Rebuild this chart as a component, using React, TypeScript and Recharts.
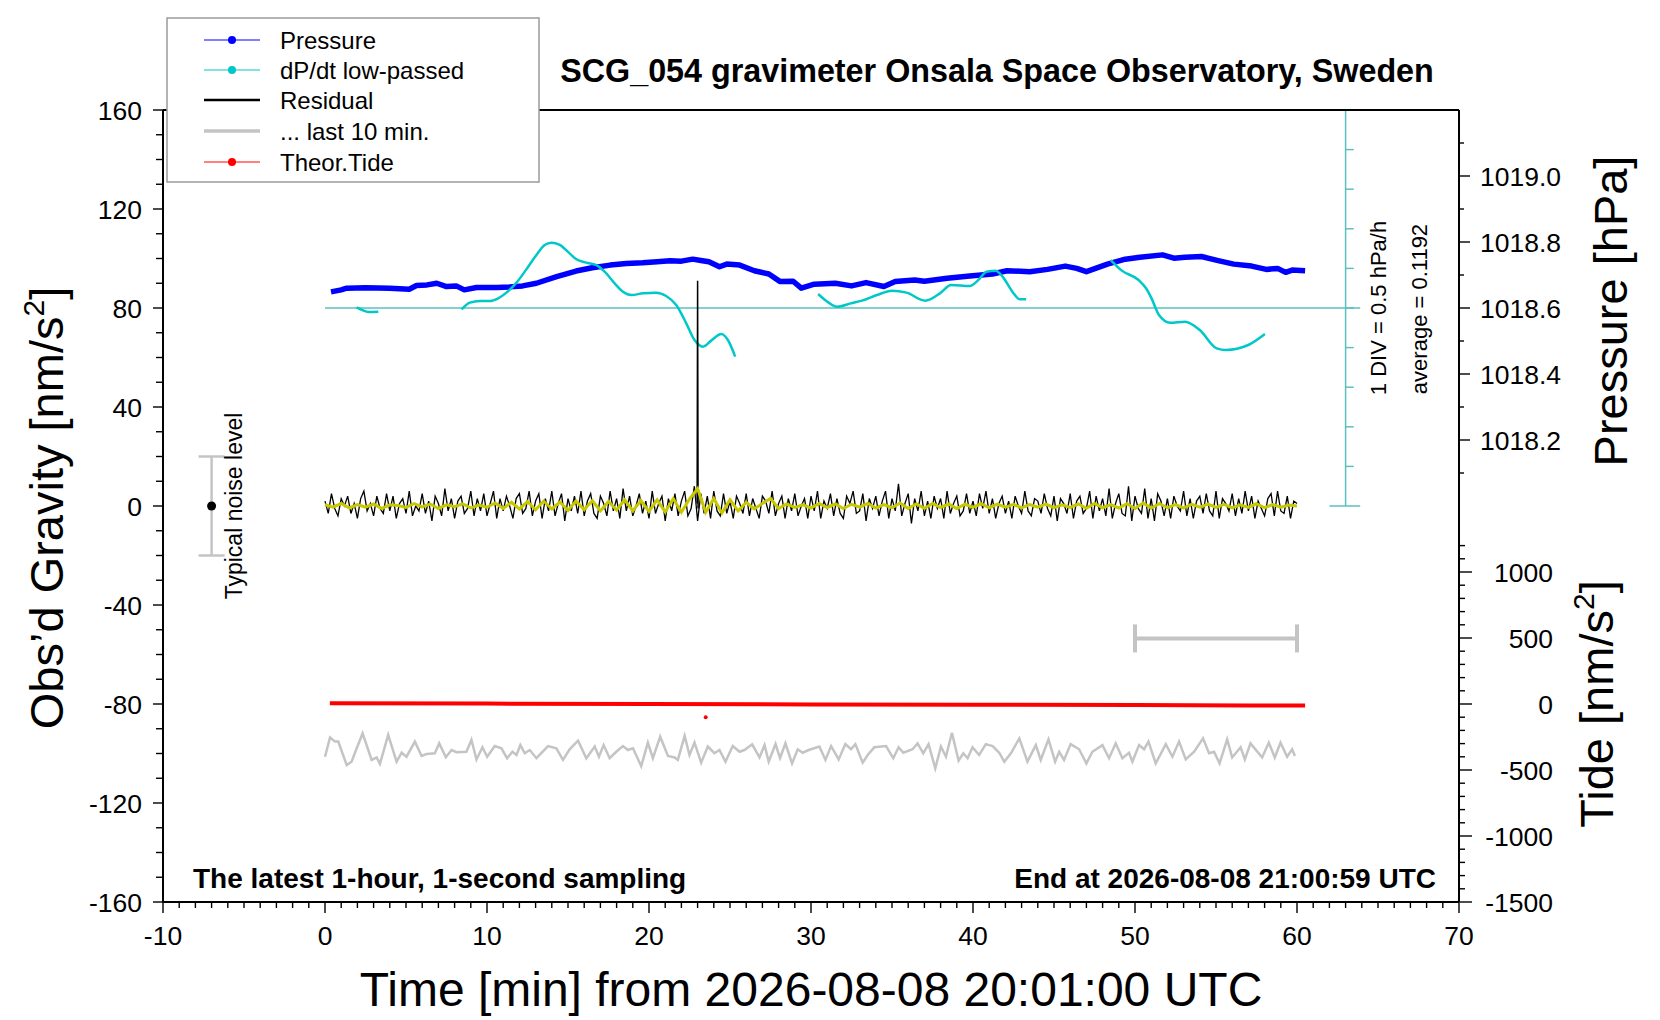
import React from "react";
import {
	ComposedChart,
	ErrorBar,
	Line,
	ReferenceLine,
	Scatter,
	XAxis,
	YAxis,
} from "recharts";

const FONT = '"Liberation Sans", Arial, Helvetica, sans-serif';

// axis ranges
const TIME_DOMAIN = [-10, 70];
const GRAVITY_DOMAIN = [-160, 160];
const PRESSURE_DOMAIN = [1016.8, 1019.2];
const TIDE_DOMAIN = [-1500, 4500];
const DPDT_AVERAGE = 0.1192; // hPa/h
const DPDT_DIV = 0.5; // hPa/h per division
const DPDT_DOMAIN = [DPDT_AVERAGE - 15 * DPDT_DIV, DPDT_AVERAGE + 5 * DPDT_DIV];
const DPDT_AXIS_T = 63; // where the dP/dt scale bar stands [min]

// tick values
const range = (a: number, b: number, step: number) =>
	Array.from({ length: Math.round((b - a) / step) + 1 }, (_, i) => +(a + i * step).toFixed(4));
const TIME_TICKS = range(-10, 70, 1);
const GRAVITY_TICKS = range(-160, 160, 10);
const PRESSURE_TICKS = [1018.1, 1018.2, 1018.3, 1018.4, 1018.5, 1018.6, 1018.7, 1018.8, 1018.9, 1019.0, 1019.1];
const TIDE_TICKS = range(-1500, 1200, 100);
const DPDT_DIVISIONS = range(-5, 5, 1).map((k) => DPDT_AVERAGE + k * DPDT_DIV);

// pressure [hPa]
const PRESSURE_T = [
	0.37, 1.0, 1.34, 2.5, 4.0, 5.2, 5.65, 6.3, 6.9, 7.5, 8.1, 8.6, 9.35, 10.6, 11.4, 12.2, 13.05,
	14.3, 15.5, 16.5, 17.6, 18.6, 19.6, 20.5, 21.3, 22.0, 22.7, 23.2, 23.7, 24.35, 24.8, 25.2, 25.6,
	26.5, 27.4, 28.1, 28.9, 29.4, 30.2, 31.5, 32.5, 33.4, 34.5, 35.2, 36.4, 37.0, 38.4, 39.8, 41.2,
	42.1, 43.5, 44.6, 45.7, 46.4, 47.0, 48.3, 49.4, 50.3, 51.7, 52.4, 53.1, 54.1, 55.2, 56.1, 57.2,
	58.1, 58.8, 59.3, 59.7, 60.5,
];
const PRESSURE_HPA = [
	1018.649, 1018.655, 1018.66, 1018.661, 1018.66, 1018.657, 1018.668, 1018.67, 1018.675, 1018.665,
	1018.667, 1018.655, 1018.662, 1018.662, 1018.664, 1018.667, 1018.675, 1018.695, 1018.712, 1018.722,
	1018.73, 1018.735, 1018.737, 1018.74, 1018.743, 1018.742, 1018.748, 1018.744, 1018.74, 1018.725,
	1018.733, 1018.732, 1018.73, 1018.713, 1018.703, 1018.68, 1018.681, 1018.66, 1018.672, 1018.675,
	1018.667, 1018.677, 1018.665, 1018.68, 1018.685, 1018.681, 1018.69, 1018.697, 1018.703, 1018.713,
	1018.71, 1018.717, 1018.727, 1018.72, 1018.71, 1018.733, 1018.748, 1018.754, 1018.761, 1018.751,
	1018.754, 1018.756, 1018.743, 1018.733, 1018.727, 1018.717, 1018.72, 1018.708, 1018.715, 1018.713,
];

// dP/dt low-passed [hPa/h], drawn in pieces
const DPDT_T = [
	[1.95, 2.3, 2.67, 3.29],
	[
		8.43, 8.94, 9.56, 10.17, 10.69, 11.2, 11.82, 12.43, 13.05, 13.56, 13.97, 14.49, 15.1, 15.52,
		16.13, 16.75, 17.26, 17.88, 18.39, 18.91, 19.63, 20.45, 21.06, 21.68, 22.3, 22.81, 23.33,
		23.84, 24.46, 24.87, 25.32,
	],
	[
		30.44, 31.09, 31.59, 32.46, 33.15, 34.07, 34.98, 35.9, 37.05, 37.96, 38.65, 39.79, 40.37,
		40.83, 41.4, 41.86, 42.43, 42.89, 43.28,
	],
	[48.5, 49.19, 50.22, 50.68, 51.02, 51.48, 52.17, 53.09, 54.0, 55.04, 55.61, 56.99, 58.02],
];
const DPDT_V = [
	[0.128, 0.094, 0.069, 0.073],
	[
		0.102, 0.187, 0.207, 0.207, 0.241, 0.313, 0.439, 0.607, 0.788, 0.915, 0.944, 0.915, 0.809,
		0.734, 0.692, 0.662, 0.578, 0.431, 0.325, 0.283, 0.304, 0.313, 0.271, 0.157, -0.074, -0.285,
		-0.369, -0.293, -0.209, -0.285, -0.495,
	],
	[
		0.296, 0.187, 0.136, 0.178, 0.212, 0.283, 0.338, 0.313, 0.212, 0.304, 0.41, 0.397, 0.481,
		0.578, 0.59, 0.506, 0.325, 0.229, 0.229,
	],
	[0.725, 0.591, 0.473, 0.368, 0.241, 0.031, -0.066, -0.053, -0.159, -0.39, -0.411, -0.348, -0.209],
];

// residual [nm/s^2], one value every RES_STEP minutes from t = 0
const RES_STEP = 0.2;
const RESIDUAL = [
	2, -3, 5, -1, -4, 3, 0, 4, -3, 1,
	-5, 3, 6, -2, 1, -4, 4, -1, -3, 5,
	-2, 4, -5, 1, 3, -3, 6, -4, 0, -2,
	5, -3, 2, -6, 4, 1, -4, 7, -2, 3,
	-5, 2, 4, -3, -1, 6, -4, 3, -2, 5,
	-4, 1, 6, -5, 3, -2, 4, 0, -5, 3,
	5, -3, -1, 6, -4, 2, 5, -5, 3, -2,
	6, -4, 1, 5, -6, 3, -2, 4, -3, 6,
	-4, 2, 5, -3, -5, 4, 1, -4, 6, -2,
	3, -5, 7, -2, 4, -4, 0, 5, -3, 2,
	-5, 6, -3, 1, 4, -6, 3, -2, 5, -4,
	2, 6, -4, -1, 8, -6, 5, -3, 4, -5,
	6, -2, -4, 5, -3, 2, -5, 4, 1, -3,
	5, -4, 3, -1, -5, 4, 2, -3, 6, -4,
	1, 4, -5, 3, -2, 5, -4, 0, 3, -5,
	4, -2, 6, -5, 2, -1, 5, -4, 3, -3,
	-5, 4, 1, 6, -3, -2, 5, -6, 3, -1,
	4, -4, 2, 6, -5, 3, -2, 9, -4, 1,
	5, -7, 3, -2, 6, -4, 2, -5, 4, -1,
	3, -5, 6, -3, 1, 4, -4, -2, 5, -3,
	2, -4, 5, -1, 6, -3, 3, -5, 1, 4,
	-3, 2, -5, 4, 0, -3, 6, -2, -4, 3,
	2, -3, 5, -1, -4, 4, -6, 3, 1, -3,
	5, -5, 2, 4, -3, -1, 6, -5, 4, -2,
	3, -4, 7, -5, 1, 5, -3, -4, 8, -6,
	4, -1, -3, 7, -5, 3, -6, 5, 2, -4,
	3, -5, 4, 0, -2, 6, -4, 3, -5, 2,
	4, -3, 5, -2, -4, 6, -5, 3, 1, -2,
	5, -4, 3, -3, 6, -2, 4, -5, 2, -1,
	-4, 3, 5, -4, 6, -2, -3, 4, -5, 2,
	1,
];
const SPIKE_T = [22.97, 23.0, 23.03];
const SPIKE_V = [1, 91, -1];

// smoothed residual (yellow), one value every SMOOTH_STEP minutes
const SMOOTH_STEP = 0.5;
const SMOOTHED = [
	0.5, -0.5, 1, -0.8, 0.6, -0.5, 0.8, -1, 0.5, 0.2,
	-0.6, 1, -0.4, 0.8, -1, 0.5, -0.3, 0.9, -0.8, 0.4,
	-0.5, 1.2, -1, 1.5, -1.2, 1.8, -1.5, 2, -1.2, 1.6,
	-1.8, 2, -1.5, 2.2, -2, 1.8, -1.6, 2.5, -2, 2.2,
	-2.2, 2.5, -2.4, 3, -2.5, 2.8, 7, -2.5, 3, -2.8,
	2.5, -2, 1.5, -1.2, 1, 3, -1, 0.8, -0.6, 0.5,
	-0.8, 1, -0.6, 0.8, -1, 0.7, -0.5, 1, -0.8, 0.6,
	-0.7, 1.2, -1, 0.8, -0.9, 1, -0.6, 0.8, -1, 0.7,
	-0.6, 0.9, -0.7, 0.8, -0.5, 0.7, -0.8, 0.6, -0.5, 0.8,
	-0.7, 0.5, -0.6, 0.8, -0.9, 1, -0.7, 0.6, -0.8, 0.9,
	-1, 1.2, -0.8, 0.9, -0.7, 0.6, -0.8, 0.7, -0.5, 0.8,
	-0.6, 0.7, -0.8, 0.5, -0.6, 0.9, -0.7, 0.6, -0.5, 0.4,
	0,
];

// last 10 min of residual, stretched over the hour and shifted to -100
const LAST10_T = [
	0.0, 0.31, 0.62, 0.82, 1.34, 1.64, 1.95, 2.32, 2.88, 3.19, 3.39, 3.9, 4.42, 4.73, 5.03, 5.55,
	5.96, 6.27, 6.78, 7.05, 7.46, 7.81, 8.12, 8.73, 9.04, 9.35, 9.72, 10.01, 10.48, 10.89, 11.24,
	11.57, 11.82, 12.06, 12.33, 12.64, 13.05, 13.77, 14.28, 14.69, 15.1, 15.62, 16.13, 16.65, 16.91,
	17.2, 17.57, 17.98, 18.39, 18.7, 19.01, 19.52, 19.93, 20.24, 20.69, 21.17, 21.58, 21.78, 22.2,
	22.5, 22.81, 23.22, 23.63, 24.04, 24.35, 24.72, 25.17, 25.59, 25.89, 26.37, 26.82, 27.13, 27.39,
	27.81, 28.09, 28.42, 28.83, 29.18, 29.49, 29.86, 30.52, 30.89, 31.24, 31.71, 32.12, 32.47,
	32.74, 33.19, 33.5, 33.91, 34.63, 35.08, 35.41, 35.7, 36.27, 36.58, 36.93, 37.26, 37.67, 38.02,
	38.33, 38.7, 39.11, 39.4, 39.67, 39.97, 40.38, 40.79, 41.21, 41.62, 41.93, 42.34, 42.86, 43.36,
	43.88, 44.18, 44.66, 45.07, 45.32, 45.62, 46.03, 46.55, 47.0, 47.37, 47.99, 48.4, 48.81, 49.22,
	49.63, 49.84, 50.25, 50.56, 50.83, 51.28, 51.9, 52.31, 52.72, 53.13, 53.65, 54.2, 54.57, 54.88,
	55.22, 55.69, 56.0, 56.52, 56.78, 57.13, 57.85, 58.26, 58.63, 58.98, 59.39, 59.7, 59.87,
];
const LAST10_V = [
	-101.3, -93.5, -95.2, -95.2, -104.7, -103.3, -98, -91.9, -102.6, -101.6, -104.2, -92.5, -103.3,
	-99.7, -101.3, -95.2, -101, -100.2, -99.9, -95.9, -101.5, -98.6, -99.5, -99.3, -94.5, -102.4,
	-97.5, -101.3, -97, -97.9, -101.9, -99.3, -100.6, -96.6, -99.9, -98.6, -101.9, -97, -97.9,
	-102.6, -98.3, -94.8, -101.9, -97.2, -101.3, -96.6, -101.9, -99.3, -97, -98.6, -97.9, -105.1,
	-95.6, -101.9, -93.2, -101, -101.6, -102.6, -92.9, -100.6, -95.6, -103.7, -97.2, -99.9, -98.6,
	-103.3, -97, -99.3, -98.6, -96.3, -101.6, -96.6, -103.3, -96.2, -101.9, -95.9, -104, -98.3,
	-99.7, -98.6, -97.2, -102.6, -97, -102.4, -96.2, -98.3, -96.2, -103.7, -100.6, -97.5, -97,
	-101.9, -97.5, -99.7, -98.3, -95.9, -99.9, -96.2, -106, -97.2, -101.3, -91.6, -102.9, -99.9,
	-101.9, -97.5, -100.6, -96.2, -97, -99.7, -103.3, -99.9, -93.9, -103.3, -96.6, -102.6, -94.3,
	-103.3, -99.3, -102.6, -96.2, -98.3, -104, -99.3, -96.6, -101.9, -95.9, -101.9, -99.7, -103.3,
	-96.6, -98.3, -95.2, -104, -96.2, -101.3, -95.2, -102.4, -99.3, -93.9, -99.9, -99.3, -104,
	-94.3, -101.6, -97.5, -102.4, -95.9, -101.6, -95.6, -101.6, -95.6, -101.3, -98.3, -101,
];
const LAST10_SPAN = [{ t: 55, v: -53.5, err: 5 }];

// theoretical tide [nm/s^2]
const TIDE_T = [0.3, 10, 20, 30, 40, 50, 57, 60.5];
const TIDE_V = [5, 3, 0, -3, -6, -8, -11, -12];
const TIDE_OUTLIER = [{ t: 23.5, v: -100 }];

// typical noise level marker
const NOISE = [{ t: -7, v: 0, err: 20 }];

const toPoints = (ts: number[], vs: number[]) => ts.map((t, i) => ({ t, v: vs[i] }));
const stepPoints = (vs: number[], step: number) => vs.map((v, i) => ({ t: +(i * step).toFixed(3), v }));

const pressureData = toPoints(PRESSURE_T, PRESSURE_HPA);
const dpdtData = DPDT_T.map((ts, i) => toPoints(ts, DPDT_V[i]));
const residualData = stepPoints(RESIDUAL, RES_STEP);
const spikeData = toPoints(SPIKE_T, SPIKE_V);
const smoothData = stepPoints(SMOOTHED, SMOOTH_STEP);
const last10Data = toPoints(LAST10_T, LAST10_V);
const tideData = toPoints(TIDE_T, TIDE_V);

const CYAN = "#00c8c8";
const CYAN_AXIS = "#5cbfbf";
const GREY = "#c4c4c4";
const TICK_FONT = 26.5;

const label = (x: number, y: number, text: React.ReactNode, anchor: string) => (
	<text x={x} y={y} textAnchor={anchor} fontSize={TICK_FONT} fontFamily={FONT} fill="#000">
		{text}
	</text>
);

const BottomTick = ({ x, y, payload }: any) => {
	const major = payload.value % 10 === 0;
	return (
		<g>
			<line x1={x} x2={x} y1={y} y2={y + (major ? 11 : 6)} stroke="#000" strokeWidth={1.4} />
			{major && label(x, y + 43, payload.value, "middle")}
		</g>
	);
};

const TopTick = ({ x, y, payload }: any) => {
	const major = payload.value % 10 === 0;
	return <line x1={x} x2={x} y1={y} y2={y - (major ? 10 : 5)} stroke="#000" strokeWidth={1.4} />;
};

const LeftTick = ({ x, y, payload }: any) => {
	const major = payload.value % 40 === 0;
	return (
		<g>
			<line x1={x - (major ? 10 : 7)} x2={x} y1={y} y2={y} stroke="#000" strokeWidth={1.4} />
			{major && label(x - 21, y + 9.5, payload.value, "end")}
		</g>
	);
};

const PressureTick = ({ x, y, payload }: any) => {
	const major = Math.round(payload.value * 10) % 2 === 0;
	return (
		<g>
			<line x1={x} x2={x + (major ? 11 : 5)} y1={y} y2={y} stroke="#000" strokeWidth={1.4} />
			{major && label(x + 21, y + 9.5, payload.value.toFixed(1), "start")}
		</g>
	);
};

const TideTick = ({ x, y, payload }: any) => {
	const major = payload.value % 500 === 0;
	return (
		<g>
			<line x1={x} x2={x + (major ? 12 : 5)} y1={y} y2={y} stroke="#000" strokeWidth={1.4} />
			{major && label(x + 93, y + 9.5, payload.value, "end")}
		</g>
	);
};

const LegendRow = ({ y, color, width, dot, text }: any) => (
	<g>
		<line x1={204} x2={260} y1={y} y2={y} stroke={color} strokeWidth={width} />
		{dot && <circle cx={232} cy={y} r={4} fill={color} />}
		<text x={280} y={y + 8.5} fontSize={24} fontFamily={FONT} fill="#000">
			{text}
		</text>
	</g>
);

const Overlay = () => (
	<svg
		width={1660}
		height={1020}
		style={{ position: "absolute", left: 0, top: 0, pointerEvents: "none" }}
	>
		<g fontFamily={FONT} fill="#000">
			<text x={997} y={82} textAnchor="middle" fontSize={32.3} fontWeight="bold">
				SCG_054 gravimeter Onsala Space Observatory, Sweden
			</text>
			<text x={193} y={888} fontSize={28} fontWeight="bold">
				The latest 1-hour, 1-second sampling
			</text>
			<text x={1436} y={888} textAnchor="end" fontSize={28} fontWeight="bold">
				End at 2026-08-08 21:00:59 UTC
			</text>
			<text x={811} y={1006} textAnchor="middle" fontSize={48}>
				Time [min] from 2026-08-08 20:01:00 UTC
			</text>
			<text x={63} y={508} textAnchor="middle" fontSize={47} transform="rotate(-90 63 508)">
				Obs’d Gravity [nm/s
				<tspan fontSize={30} dy={-19}>
					2
				</tspan>
				<tspan dy={19}>]</tspan>
			</text>
			<text x={1627} y={311} textAnchor="middle" fontSize={47} transform="rotate(-90 1627 311)">
				Pressure [hPa]
			</text>
			<text x={1613} y={704} textAnchor="middle" fontSize={47} transform="rotate(-90 1613 704)">
				Tide [nm/s
				<tspan fontSize={30} dy={-19}>
					2
				</tspan>
				<tspan dy={19}>]</tspan>
			</text>
			<text x={242} y={506} textAnchor="middle" fontSize={23} transform="rotate(-90 242 506)">
				Typical noise level
			</text>
			<text x={1386} y={308} textAnchor="middle" fontSize={22} transform="rotate(-90 1386 308)">
				1 DIV = {DPDT_DIV} hPa/h
			</text>
			<text x={1427} y={309} textAnchor="middle" fontSize={22} transform="rotate(-90 1427 309)">
				average = {DPDT_AVERAGE}
			</text>
		</g>
		<rect x={167} y={18} width={372} height={164} fill="#fff" stroke="#9a9a9a" strokeWidth={1.5} />
		<LegendRow y={40} color="#0000ff" width={1} dot text="Pressure" />
		<LegendRow y={70} color={CYAN} width={1} dot text="dP/dt low-passed" />
		<LegendRow y={100} color="#000" width={2.5} text="Residual" />
		<LegendRow y={131} color={GREY} width={3.5} text="... last 10 min." />
		<LegendRow y={162} color="#ff0000" width={1} dot text="Theor.Tide" />
	</svg>
);

export default function App() {
	return (
		<div
			style={{
				position: "absolute",
				left: 0,
				top: 0,
				width: 1660,
				height: 1020,
				background: "#fff",
			}}
		>
			<ComposedChart width={1660} height={1020} margin={{ top: 100, right: 120, bottom: 58, left: 0 }}>
				<XAxis
					dataKey="t"
					type="number"
					domain={TIME_DOMAIN}
					ticks={TIME_TICKS}
					interval={0}
					allowDataOverflow
					height={60}
					tickSize={0}
					tickMargin={0}
					tickLine={false}
					axisLine={{ stroke: "#000", strokeWidth: 2 }}
					tick={(p: any) => <BottomTick {...p} />}
				/>
				<XAxis
					xAxisId="top"
					orientation="top"
					type="number"
					domain={TIME_DOMAIN}
					ticks={TIME_TICKS}
					interval={0}
					allowDataOverflow
					height={10}
					tickSize={0}
					tickMargin={0}
					tickLine={false}
					axisLine={{ stroke: "#000", strokeWidth: 2 }}
					tick={(p: any) => <TopTick {...p} />}
				/>
				<YAxis
					yAxisId="g"
					type="number"
					domain={GRAVITY_DOMAIN}
					ticks={GRAVITY_TICKS}
					interval={0}
					allowDataOverflow
					width={163}
					tickSize={0}
					tickMargin={0}
					tickLine={false}
					axisLine={{ stroke: "#000", strokeWidth: 2 }}
					tick={(p: any) => <LeftTick {...p} />}
				/>
				<YAxis
					yAxisId="p"
					orientation="right"
					type="number"
					domain={PRESSURE_DOMAIN}
					ticks={PRESSURE_TICKS}
					interval={0}
					allowDataOverflow
					width={1}
					tickSize={0}
					tickMargin={0}
					tickLine={false}
					axisLine={{ stroke: "#000", strokeWidth: 2 }}
					tick={(p: any) => <PressureTick {...p} />}
				/>
				<YAxis
					yAxisId="tide"
					orientation="right"
					type="number"
					domain={TIDE_DOMAIN}
					ticks={TIDE_TICKS}
					interval={0}
					allowDataOverflow
					width={80}
					tickSize={0}
					tickMargin={0}
					tickLine={false}
					axisLine={false}
					tick={(p: any) => <TideTick {...p} />}
				/>
				<YAxis yAxisId="d" hide width={0} orientation="right" type="number" domain={DPDT_DOMAIN} allowDataOverflow />

				{/* dP/dt scale bar and its average line */}
				<ReferenceLine
					yAxisId="d"
					segment={[
						{ x: 0, y: DPDT_AVERAGE },
						{ x: DPDT_AXIS_T + 0.9, y: DPDT_AVERAGE },
					]}
					stroke={CYAN_AXIS}
					strokeWidth={1.5}
				/>
				<ReferenceLine
					yAxisId="d"
					segment={[
						{ x: DPDT_AXIS_T, y: DPDT_DIVISIONS[0] },
						{ x: DPDT_AXIS_T, y: DPDT_DIVISIONS[DPDT_DIVISIONS.length - 1] },
					]}
					stroke={CYAN_AXIS}
					strokeWidth={1.5}
				/>
				{DPDT_DIVISIONS.map((d, i) => {
					const end = i === 0 || i === DPDT_DIVISIONS.length - 1;
					return (
						<ReferenceLine
							key={`div-${i}`}
							yAxisId="d"
							segment={[
								{ x: end ? DPDT_AXIS_T - 1 : DPDT_AXIS_T, y: d },
								{ x: end ? DPDT_AXIS_T + 0.9 : DPDT_AXIS_T + 0.5, y: d },
							]}
							stroke={CYAN_AXIS}
							strokeWidth={1.5}
						/>
					);
				})}

				<Line
					yAxisId="p"
					data={pressureData}
					dataKey="v"
					stroke="#0000ff"
					strokeWidth={5.5}
					strokeLinejoin="round"
					dot={false}
					activeDot={false}
					isAnimationActive={false}
				/>
				{dpdtData.map((seg, i) => (
					<Line
						key={`dpdt-${i}`}
						yAxisId="d"
						data={seg}
						dataKey="v"
						type="monotone"
						stroke={CYAN}
						strokeWidth={2.5}
						dot={false}
						activeDot={false}
						isAnimationActive={false}
					/>
				))}
				<Line
					yAxisId="g"
					data={residualData}
					dataKey="v"
					stroke="#000"
					strokeWidth={1.3}
					dot={false}
					activeDot={false}
					isAnimationActive={false}
				/>
				<Line
					yAxisId="g"
					data={spikeData}
					dataKey="v"
					stroke="#000"
					strokeWidth={1.5}
					dot={false}
					activeDot={false}
					isAnimationActive={false}
				/>
				<Line
					yAxisId="g"
					data={smoothData}
					dataKey="v"
					stroke="#c8c800"
					strokeWidth={3}
					dot={false}
					activeDot={false}
					isAnimationActive={false}
				/>
				<Line
					yAxisId="g"
					data={last10Data}
					dataKey="v"
					stroke={GREY}
					strokeWidth={2.5}
					dot={false}
					activeDot={false}
					isAnimationActive={false}
				/>
				<Line
					yAxisId="tide"
					data={tideData}
					dataKey="v"
					stroke="#ff0000"
					strokeWidth={4}
					dot={false}
					activeDot={false}
					isAnimationActive={false}
				/>
				<Scatter
					yAxisId="tide"
					data={TIDE_OUTLIER}
					dataKey="v"
					fill="#ff0000"
					shape={(p: any) => <circle cx={p.cx} cy={p.cy} r={2} fill="#ff0000" />}
					isAnimationActive={false}
				/>
				<Scatter
					yAxisId="g"
					data={LAST10_SPAN}
					dataKey="v"
					shape={() => <g />}
					isAnimationActive={false}
				>
					<ErrorBar dataKey="err" direction="x" width={14} stroke={GREY} strokeWidth={4} />
				</Scatter>
				<Scatter
					yAxisId="g"
					data={NOISE}
					dataKey="v"
					shape={(p: any) => <circle cx={p.cx} cy={p.cy} r={4.5} fill="#000" />}
					isAnimationActive={false}
				>
					<ErrorBar dataKey="err" direction="y" width={13} stroke={GREY} strokeWidth={2.5} />
				</Scatter>
			</ComposedChart>
			<Overlay />
		</div>
	);
}
